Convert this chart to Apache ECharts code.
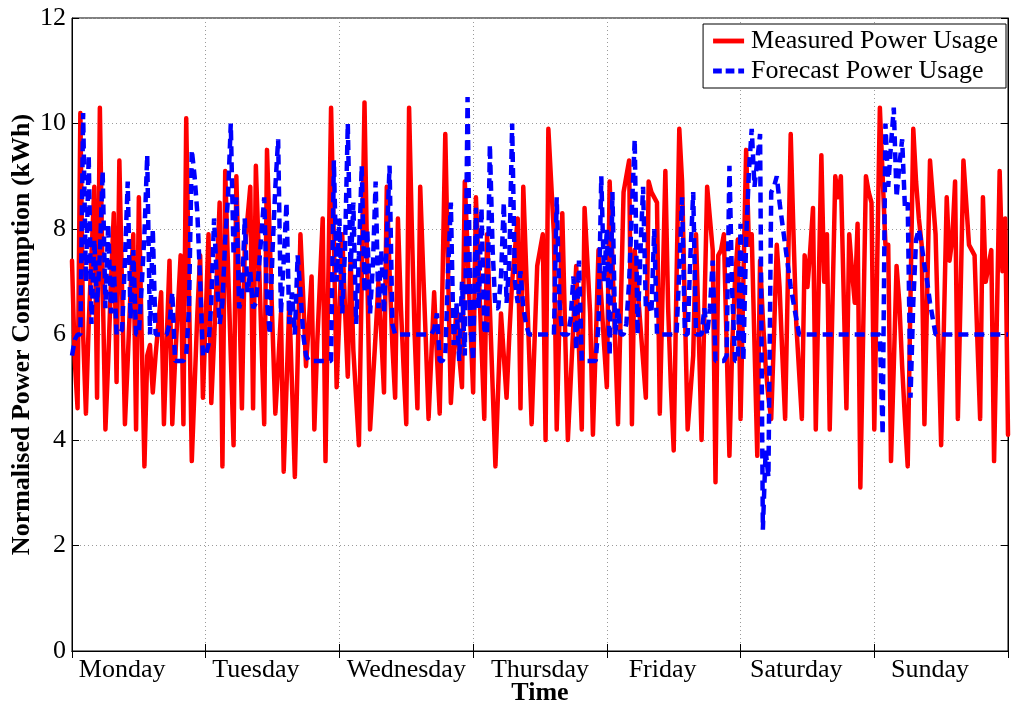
<!DOCTYPE html>
<html>
<head>
<meta charset="utf-8">
<script src="https://cdn.jsdelivr.net/npm/echarts@6/dist/echarts.min.js"></script>
<style>
  html, body { margin: 0; padding: 0; background: #fff; }
  #chart { width: 1011px; height: 707px; }
</style>
</head>
<body>
<div id="chart"></div>
<script>
// half-hourly samples over one week
const days = ['Monday', 'Tuesday', 'Wednesday', 'Thursday', 'Friday', 'Saturday', 'Sunday']
const samplesPerDay = 48
// sample index under each day label, as placed in the original figure
const labelSlots = [18, 66, 120, 168, 212, 260, 308]
const yTicks = { min: 0, max: 12, step: 2 }

const measured = [
  7.4, 5.5, 4.6, 10.2, 6.0, 4.5, 6.2, 7.5, 8.8, 4.8, 10.3, 7.0,
  4.2, 5.5, 7.0, 8.3, 5.1, 9.3, 6.8, 4.3, 5.5, 6.8, 7.9, 4.2,
  8.6, 6.0, 3.5, 5.6, 5.8, 4.9, 5.6, 6.2, 6.8, 4.3, 5.9, 7.4,
  4.3, 5.5, 6.5, 7.5, 4.3, 10.1, 6.8, 3.6, 5.0, 6.4, 7.5, 4.8,
  6.3, 7.9, 4.7, 5.9, 7.1, 8.5, 3.5, 9.1, 7.3, 5.6, 3.9, 9.0,
  6.8, 4.6, 7.6, 8.2, 8.8, 4.6, 9.2, 7.6, 5.9, 4.3, 9.5, 7.8,
  6.1, 4.5, 5.4, 6.4, 3.4, 5.0, 6.6, 5.0, 3.3, 5.5, 7.9, 6.7,
  5.4, 6.2, 7.1, 4.2, 5.8, 7.0, 8.2, 3.6, 7.0, 10.3, 7.8, 5.0,
  6.4, 7.9, 6.5, 5.2, 7.5, 5.7, 4.8, 3.9, 7.0, 10.4, 7.2, 4.2,
  5.1, 6.0, 7.0, 6.0, 4.9, 8.8, 7.2, 5.8, 4.8, 8.2, 6.6, 5.4,
  4.3, 10.3, 8.0, 6.0, 4.6, 8.8, 7.3, 5.9, 4.4, 5.6, 6.8, 5.6,
  4.5, 7.0, 9.8, 7.2, 4.7, 5.6, 6.5, 5.6, 5.0, 8.9, 7.6, 6.2,
  4.9, 8.6, 7.2, 5.8, 4.4, 7.9, 6.5, 5.0, 3.5, 5.0, 6.4, 5.6,
  4.8, 6.0, 7.0, 7.6, 8.2, 4.6, 8.8, 7.3, 5.8, 4.3, 5.8, 7.3,
  7.6, 7.9, 4.0, 9.9, 8.9, 7.9, 4.2, 6.3, 8.3, 6.1, 4.0, 5.1,
  6.2, 7.3, 5.7, 4.2, 8.4, 7.4, 6.4, 4.1, 5.8, 7.6, 6.7, 5.8,
  5.0, 8.9, 7.4, 5.8, 4.3, 6.5, 8.7, 9.0, 9.3, 4.3, 7.6, 6.9,
  6.2, 5.5, 4.8, 8.9, 8.7, 8.6, 8.5, 4.5, 6.8, 9.1, 6.5, 5.0,
  3.8, 7.0, 9.9, 8.9, 6.5, 4.2, 4.9, 5.6, 7.9, 6.0, 4.0, 6.4,
  8.8, 8.2, 7.6, 3.2, 7.5, 7.6, 7.9, 5.8, 3.7, 5.8, 7.0, 7.8,
  4.4, 7.0, 9.5, 7.7, 7.9, 5.8, 3.7, 7.4, 6.3, 5.4, 4.8, 4.4,
  6.0, 7.7, 6.9, 5.6, 4.4, 7.1, 9.8, 7.9, 6.2, 5.3, 4.4, 7.5,
  6.9, 7.6, 8.4, 4.2, 6.8, 9.4, 7.0, 7.9, 4.2, 6.6, 9.0, 8.6,
  9.0, 6.8, 4.6, 7.9, 7.2, 6.6, 8.1, 3.1, 6.0, 9.0, 8.7, 8.5,
  4.2, 7.2, 10.3, 9.0, 7.7, 7.7, 3.6, 5.4, 7.3, 6.6, 5.4, 4.4,
  3.5, 6.7, 9.9, 8.9, 8.2, 7.7, 4.3, 6.8, 9.3, 8.6, 7.9, 5.9,
  3.9, 6.2, 8.6, 7.4, 7.8, 8.9, 4.4, 6.8, 9.3, 8.5, 7.7, 7.6,
  7.5, 5.9, 4.4, 8.6, 7.0, 7.3, 7.6, 3.6, 6.3, 9.1, 7.2, 8.2,
  4.1
]

const forecast = [
  5.6, 5.9, 6.0, 6.0, 10.2, 7.0, 9.4, 6.2, 7.8, 6.6, 7.5, 9.1,
  6.5, 8.1, 6.4, 7.3, 6.0, 6.0, 6.1, 7.4, 8.9, 6.3, 7.6, 6.0,
  6.0, 6.9, 7.9, 9.4, 6.0, 8.0, 6.0, 6.0, 6.0, 6.0, 6.0, 6.2,
  6.8, 5.5, 5.5, 5.5, 5.5, 5.6, 6.5, 9.5, 9.0, 8.3, 7.0, 5.6,
  5.6, 5.8, 6.6, 8.2, 7.0, 6.2, 6.6, 7.8, 8.6, 10.0, 7.5, 8.6,
  6.5, 6.7, 8.2, 6.8, 7.2, 6.5, 6.6, 7.2, 7.9, 8.6, 6.6, 6.0,
  7.6, 8.8, 9.7, 6.4, 7.4, 8.5, 6.2, 6.8, 6.0, 7.5, 6.8, 6.0,
  5.6, 5.5, 5.5, 5.5, 5.5, 5.5, 5.5, 5.5, 5.5, 5.5, 9.3, 7.0,
  8.2, 6.4, 7.6, 10.0, 7.2, 8.5, 6.2, 7.5, 9.2, 6.8, 8.0, 6.4,
  7.3, 8.9, 6.5, 7.6, 6.4, 7.8, 9.2, 6.2, 6.0, 6.0, 6.0, 6.0,
  6.0, 6.0, 6.0, 6.0, 6.0, 6.0, 6.0, 6.0, 6.0, 6.0, 6.1, 6.4,
  5.5, 5.5, 5.6, 7.2, 8.5, 5.8, 6.6, 5.5, 7.0, 5.6, 10.5, 6.2,
  5.5, 8.4, 6.5, 8.4, 6.1, 6.0, 9.6, 7.6, 6.5, 6.5, 7.1, 8.5,
  6.6, 7.4, 10.0, 7.0, 6.6, 7.2, 6.5, 6.2, 6.0, 6.0, 6.0, 6.0,
  6.0, 6.0, 6.0, 6.0, 6.0, 6.0, 8.6, 6.6, 6.0, 6.0, 6.0, 6.3,
  7.1, 5.7, 7.4, 5.5, 5.5, 5.5, 5.5, 5.5, 5.5, 6.2, 9.0, 7.0,
  8.0, 5.6, 8.7, 6.0, 6.5, 6.0, 6.0, 6.2, 7.0, 8.4, 9.7, 6.0,
  7.5, 8.8, 6.5, 6.6, 6.4, 8.0, 6.0, 6.0, 6.0, 6.0, 6.0, 6.0,
  6.0, 6.0, 7.2, 8.6, 6.0, 6.0, 7.5, 8.7, 6.0, 6.0, 6.0, 6.5,
  6.0, 6.5, 7.4, 5.5, 5.5, 5.5, 5.5, 5.6, 9.2, 6.8, 5.5, 5.5,
  8.1, 5.5, 7.8, 9.1, 9.9, 8.8, 9.3, 9.8, 2.3, 3.8, 3.3, 8.7,
  8.8, 9.0, 8.5, 8.1, 7.7, 7.3, 6.9, 6.6, 6.3, 6.0, 6.0, 6.0,
  6.0, 6.0, 6.0, 6.0, 6.0, 6.0, 6.0, 6.0, 6.0, 6.0, 6.0, 6.0,
  6.0, 6.0, 6.0, 6.0, 6.0, 6.0, 6.0, 6.0, 6.0, 6.0, 6.0, 6.0,
  6.0, 6.0, 6.0, 4.1, 10.0, 8.8, 9.6, 10.3, 8.6, 9.2, 9.7, 8.4,
  8.5, 4.8, 6.6, 7.8, 8.0, 7.7, 7.3, 7.0, 6.6, 6.3, 6.0, 6.0,
  6.0, 6.0, 6.0, 6.0, 6.0, 6.0, 6.0, 6.0, 6.0, 6.0, 6.0, 6.0,
  6.0, 6.0, 6.0, 6.0, 6.0, 6.0, 6.0, 6.0, 6.0, 6.0, 6.0, 6.0,
  6.0
]

const slots = measured.map((_, i) => String(i))
const font = "'Liberation Serif', 'Times New Roman', serif"
const isDayEdge = (i) => i % samplesPerDay === 0
const gridDots = { color: '#9a9a9a', width: 1, type: [1, 3] }

// legend swatches: plain line / dashed line, no marker
const solidIcon = 'path://M0,0 L32,0 L32,5 L0,5 Z'
const dashIcon = 'path://M0,0 L9,0 L9,5 L0,5 Z M13,0 L22,0 L22,5 L13,5 Z M26,0 L32,0 L32,5 L26,5 Z'

const chart = echarts.init(document.getElementById('chart'))

chart.setOption({
  animation: false,
  backgroundColor: '#fff',
  grid: {
    left: 72, right: 3, top: 18, bottom: 56,
    outerBoundsMode: 'none',
    containLabel: false,
    show: true, borderColor: '#000', borderWidth: 1
  },
  legend: {
    orient: 'vertical',
    right: 5,
    top: 24,
    backgroundColor: '#fff',
    borderColor: '#000',
    borderWidth: 1,
    padding: [4, 8, 4, 10],
    itemGap: 4,
    itemWidth: 31,
    itemHeight: 5,
    data: [
      { name: 'Measured Power Usage', icon: solidIcon },
      { name: 'Forecast Power Usage', icon: dashIcon }
    ],
    textStyle: { fontFamily: font, fontSize: 26, color: '#000', padding: [0, 0, 0, 2] }
  },
  xAxis: [
    {
      type: 'category',
      data: slots,
      boundaryGap: false,
      position: 'bottom',
      name: 'Time',
      nameLocation: 'middle',
      nameGap: 29,
      nameMoveOverlap: false,
      nameTextStyle: { fontFamily: font, fontSize: 26, fontWeight: 'bold', color: '#000' },
      axisLine: { lineStyle: { color: '#000' } },
      axisTick: { inside: true, length: 7, interval: (i) => isDayEdge(i), lineStyle: { color: '#000' } },
      axisLabel: {
        interval: (i) => labelSlots.includes(i),
        formatter: (v) => days[labelSlots.indexOf(Number(v))],
        fontFamily: font, fontSize: 26, color: '#000', margin: 6
      },
      splitLine: {
        show: true,
        interval: (i) => isDayEdge(i) && i > 0 && i < slots.length - 1,
        lineStyle: gridDots
      }
    },
    {
      type: 'category',
      data: slots,
      boundaryGap: false,
      position: 'top',
      axisLine: { lineStyle: { color: '#000' } },
      axisTick: { inside: true, length: 7, interval: (i) => isDayEdge(i), lineStyle: { color: '#000' } },
      axisLabel: { show: false },
      splitLine: { show: false }
    }
  ],
  yAxis: [
    {
      type: 'value',
      min: yTicks.min,
      max: yTicks.max,
      interval: yTicks.step,
      name: 'Normalised Power Consumption (kWh)',
      nameLocation: 'middle',
      nameGap: 37,
      nameMoveOverlap: false,
      nameTextStyle: { fontFamily: font, fontSize: 26, fontWeight: 'bold', color: '#000' },
      axisLine: { show: true, lineStyle: { color: '#000' } },
      axisTick: { show: true, inside: true, length: 7, lineStyle: { color: '#000' } },
      axisLabel: { fontFamily: font, fontSize: 26, color: '#000', margin: 6 },
      splitLine: { show: true, lineStyle: gridDots }
    },
    {
      type: 'value',
      position: 'right',
      min: yTicks.min,
      max: yTicks.max,
      interval: yTicks.step,
      axisLine: { show: true, lineStyle: { color: '#000' } },
      axisTick: { show: true, inside: true, length: 7, lineStyle: { color: '#000' } },
      axisLabel: { show: false },
      splitLine: { show: false }
    }
  ],
  series: [
    {
      name: 'Measured Power Usage',
      type: 'line',
      data: measured,
      symbol: 'none',
      itemStyle: { color: '#ff0000' },
      lineStyle: { color: '#ff0000', width: 4.5, cap: 'round', join: 'round' }
    },
    {
      name: 'Forecast Power Usage',
      type: 'line',
      data: forecast,
      symbol: 'none',
      itemStyle: { color: '#0000ff' },
      lineStyle: { color: '#0000ff', width: 4.5, type: [10, 6] }
    }
  ]
})
</script>
</body>
</html>
